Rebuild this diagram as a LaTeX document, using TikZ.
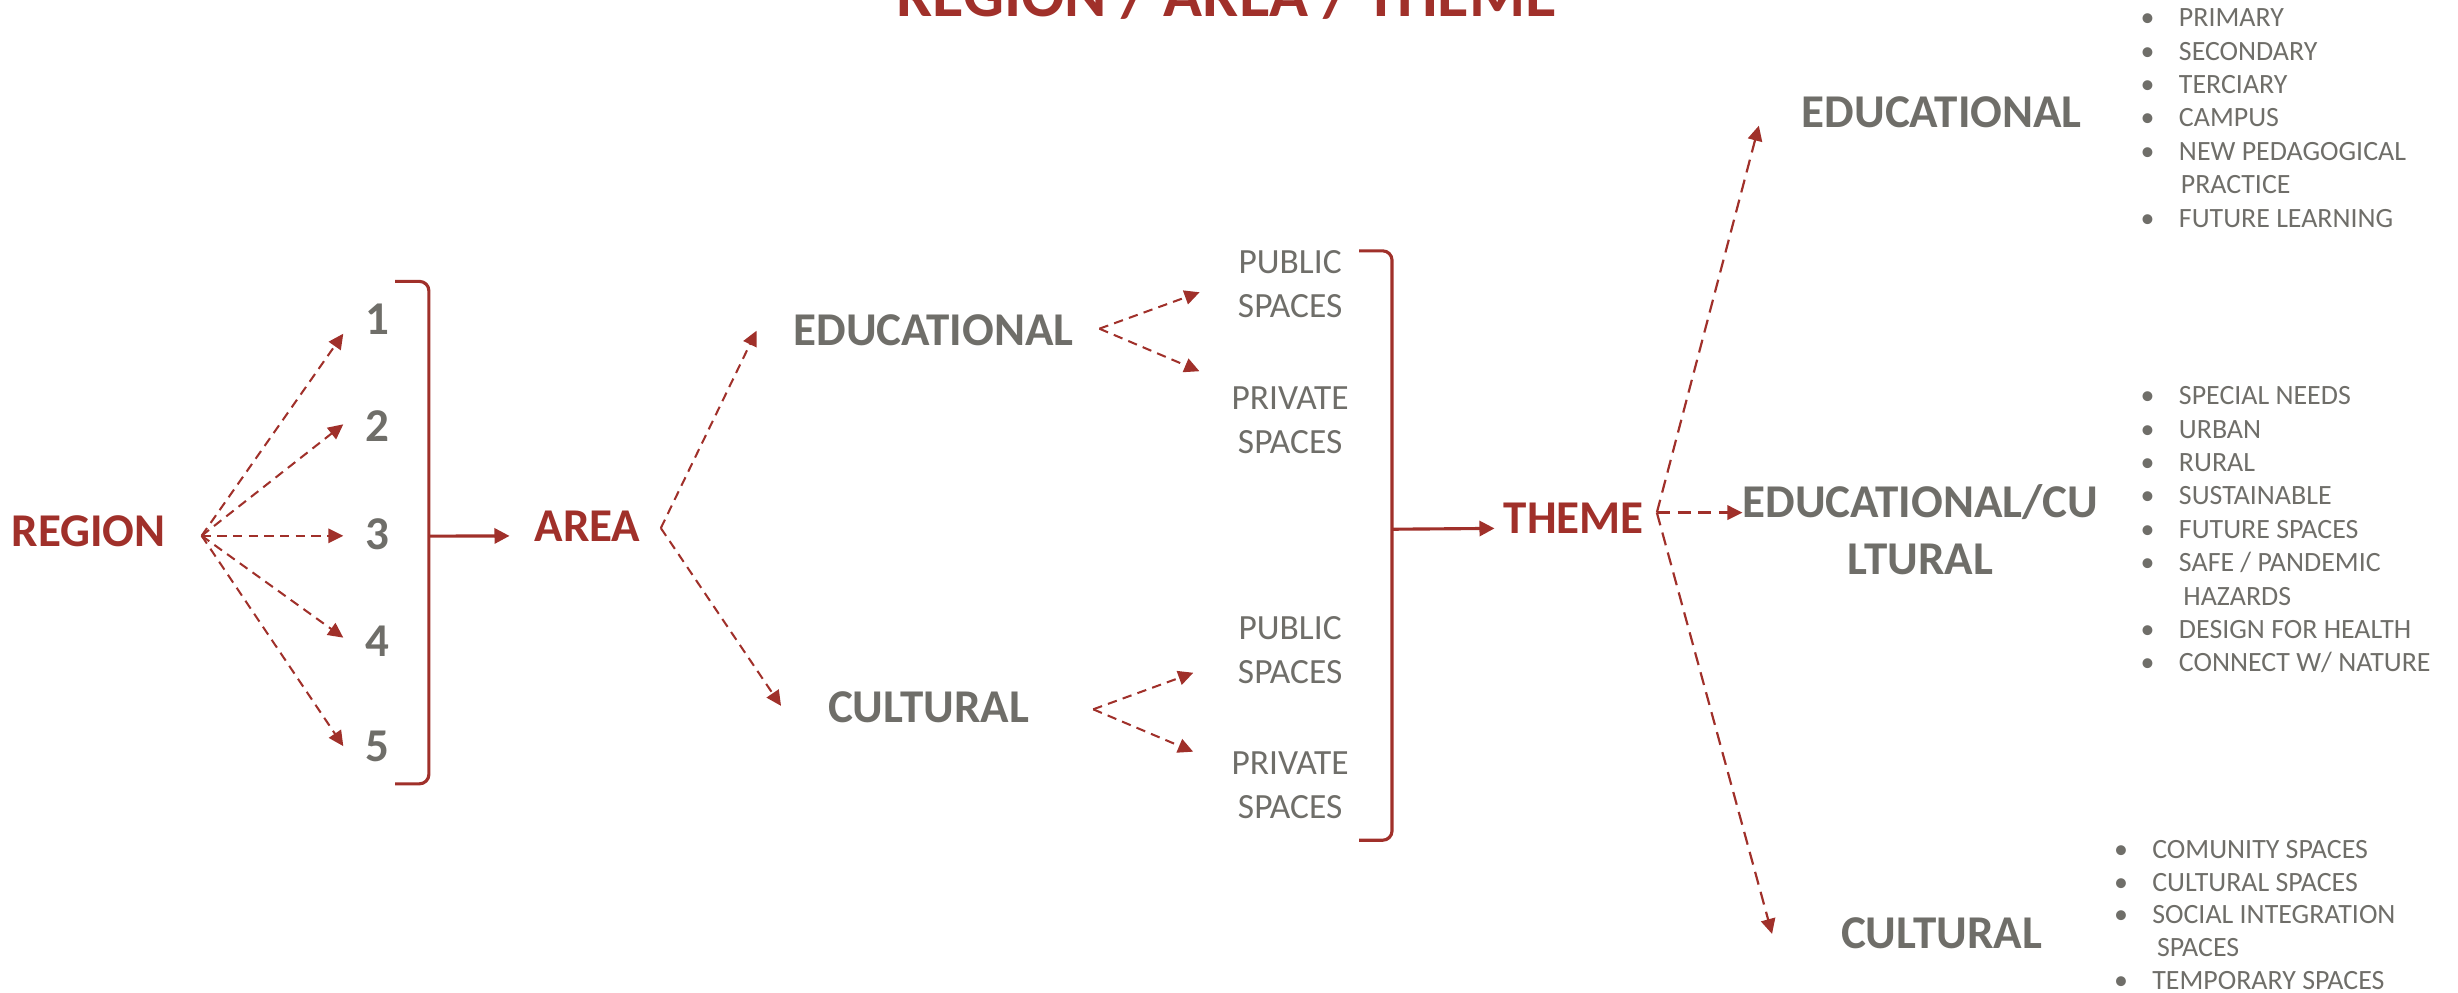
\documentclass[tikz,border=0pt]{standalone}
\usepackage{fontspec}
\setmainfont{Carlito}
\usetikzlibrary{arrows.meta,calc}
\definecolor{rd}{RGB}{160,48,42}
\definecolor{gr}{RGB}{111,110,105}
\newcommand{\mybul}[1]{\makebox[10pt][l]{\makebox[0pt][c]{•}}#1}
\begin{document}
\begin{tikzpicture}[x=0.5pt,y=-0.5pt,
  lbl/.style={inner sep=0pt,outer sep=0pt},
  redbig/.style={lbl,text=rd,font=\fontsize{15}{18}\selectfont\bfseries},
  graybig/.style={lbl,text=gr,font=\fontsize{15}{18.15}\selectfont\bfseries,align=center},
  mid/.style={lbl,text=gr,font=\fontsize{11.3}{14}\selectfont,align=center},
  lst/.style={lbl,text=gr,font=\fontsize{8.9}{10.65}\selectfont,align=left},
  dsh/.style={draw=rd,line width=0.65pt,dash pattern=on 3pt off 2pt,-{Triangle[length=4.8pt,width=4.6pt]}},
  dshl/.style={draw=rd,line width=0.7pt,dash pattern=on 4.2pt off 2.4pt,-{Triangle[length=4.8pt,width=4.6pt]}},
  sld/.style={draw=rd,line width=1pt,-{Triangle[length=4.8pt,width=4.8pt]}},
  brk/.style={draw=rd,line width=1pt,rounded corners=3pt}]
\useasboundingbox (0,0) rectangle (1568,633);

% title
\node[lbl,text=rd,font=\fontsize{20.5}{24}\selectfont\bfseries,anchor=base] (title) at (782.5,10.7) {REGION / AREA / THEME};

% region column
\node[redbig,anchor=base] (region) at (56.5,348.5) {REGION};
\node[graybig,anchor=base] (n1) at (241,213.6) {1};
\node[graybig,anchor=base] (n2) at (241,281.5) {2};
\node[graybig,anchor=base] (n3) at (241,350.5) {3};
\node[graybig,anchor=base] (n4) at (241,418.5) {4};
\node[graybig,anchor=base] (n5) at (241,485.6) {5};
\coordinate (rhub) at ($(region.east)+(23,3)$);
\draw[dsh] (rhub) -- ($(n1.west)+(-14.4,9)$);
\draw[dsh] (rhub) -- ($(n2.west)+(-14.4,-1)$);
\draw[dsh] (rhub) -- ($(n3.west)+(-14.4,1)$);
\draw[dsh] (rhub) -- ($(n4.west)+(-14.4,-2)$);
\draw[dsh] (rhub) -- ($(n5.west)+(-14.4,0)$);
\draw[brk] (252,179.5) -- (273.6,179.5) -- (273.6,500) -- (252,500);
\coordinate (b1) at (273.6,342);

% area
\node[redbig,anchor=base] (area) at (374.8,345.6) {AREA};
\draw[sld] (b1) -- ($(area.west)+(-16,6)$);
\coordinate (ahub) at ($(area.east)+(13,1)$);
\node[graybig,anchor=base] (edu1) at (595.5,220.4) {EDUCATIONAL};
\node[graybig,anchor=base] (cul1) at (592.3,461) {CULTURAL};
\draw[dsh] (ahub) -- ($(edu1.west)+(-23.6,0.3)$);
\draw[dsh] (ahub) -- ($(cul1.west)+(-30,-1)$);

% spaces (base anchor = baseline of the last line)
\node[mid,anchor=base] (pub1) at (823,202.5) {PUBLIC\\SPACES};
\node[mid,anchor=base] (priv1) at (823,289) {PRIVATE\\SPACES};
\node[mid,anchor=base] (pub2) at (823,436) {PUBLIC\\SPACES};
\node[mid,anchor=base] (priv2) at (823,522) {PRIVATE\\SPACES};
\coordinate (ehub) at ($(edu1.east)+(16.5,-1)$);
\coordinate (chub) at ($(cul1.east)+(41,1.2)$);
\draw[dsh] (ehub) -- ($(pub1.west)+(-24.5,5.2)$);
\draw[dsh] (ehub) -- ($(priv1.north west)+(-20.5,-9.7)$);
\draw[dsh] (chub) -- ($(pub2.south west)+(-28.5,-7)$);
\draw[dsh] (chub) -- ($(priv2.north west)+(-24.5,0)$);
\draw[brk] (867,160) -- (888,160) -- (888,536) -- (867,536);
\coordinate (b2) at (888,337.6);

% theme
\node[redbig,anchor=base] (theme) at (1004,340.3) {THEME};
\draw[sld] (b2) -- ($(theme.west)+(-6,6.5)$);
\coordinate (thub) at ($(theme.east)+(8.3,-3.6)$);
\node[graybig,anchor=base] (eduT) at (1238.7,81.5) {EDUCATIONAL};
\node[graybig,anchor=base] (educul) at (1225,366.3) {EDUCATIONAL/CU\\LTURAL};
\node[graybig,anchor=base] (culT) at (1238.5,605) {CULTURAL};
\draw[dshl] (thub) -- ($(eduT.west)+(-27.4,8.4)$);
\draw[dshl] (thub) -- (thub -| educul.west);
\draw[dshl] (thub) -- ($(culT.west)+(-44,0.5)$);

% lists
\node[lst,anchor=base west] (list1) at (1370,144.9) {\mybul{PRIMARY}\\\mybul{SECONDARY}\\\mybul{TERCIARY}\\\mybul{CAMPUS}\\\mybul{NEW PEDAGOGICAL}\\\hspace*{10.6pt}PRACTICE\\\mybul{FUTURE LEARNING}};
\node[lst,anchor=base west] (list2) at (1370,428.6) {\mybul{SPECIAL NEEDS}\\\mybul{URBAN}\\\mybul{RURAL}\\\mybul{SUSTAINABLE}\\\mybul{FUTURE SPACES}\\\mybul{SAFE / PANDEMIC}\\\hspace*{11.4pt}HAZARDS\\\mybul{DESIGN FOR HEALTH}\\\mybul{CONNECT W/ NATURE}};
\node[lst,anchor=base west,font=\fontsize{8.9}{10.5}\selectfont] (list3) at (1353,631.4) {\mybul{COMUNITY SPACES}\\\mybul{CULTURAL SPACES}\\\mybul{SOCIAL INTEGRATION}\\\hspace*{11.5pt}SPACES\\\mybul{TEMPORARY SPACES}};
\end{tikzpicture}
\end{document}
